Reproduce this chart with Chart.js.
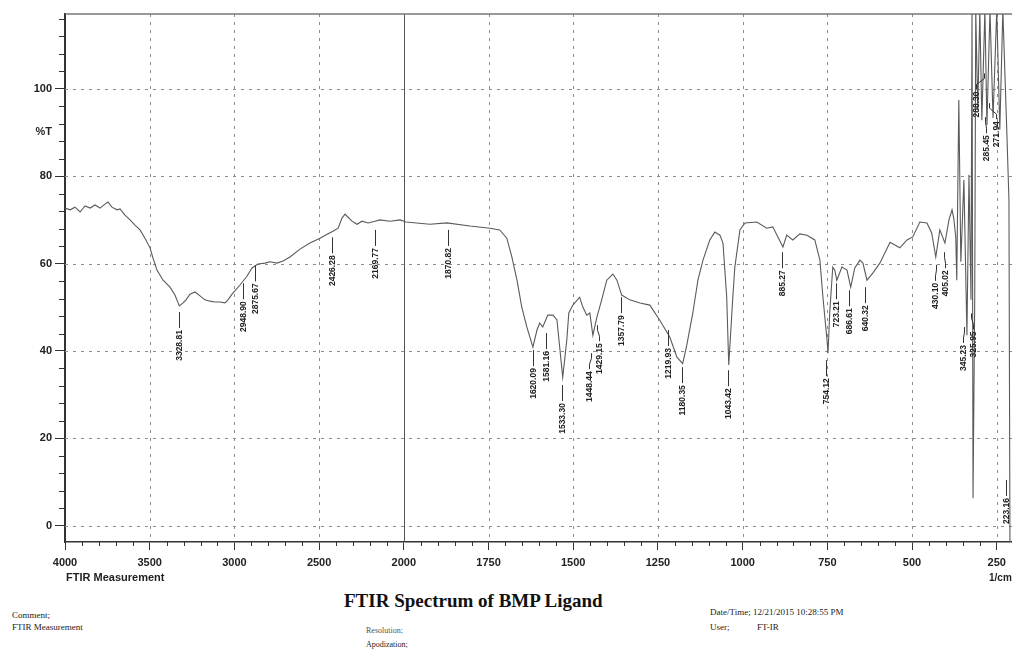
<!DOCTYPE html>
<html>
<head>
<meta charset="utf-8">
<script src="https://cdn.jsdelivr.net/npm/chart.js@4.4.1/dist/chart.umd.min.js"></script>
<style>
  body { margin: 0; background: #fff; width: 1012px; height: 653px; position: relative; overflow: hidden; }
  #wrap { position: absolute; left: 0; top: 0; width: 1012px; height: 590px; }
  .t { position: absolute; white-space: nowrap; color: #222; line-height: 1; }
  .sans { font-family: "Liberation Sans", Arial, sans-serif; font-weight: bold; font-size: 11px; }
  .serif { font-family: "Liberation Serif", "Times New Roman", serif; font-size: 9px; }
  .title { font-family: "Liberation Serif", "Times New Roman", serif; font-weight: bold; font-size: 19px; color: #111; }
</style>
</head>
<body>
<div id="wrap"><canvas id="ftir" width="1012" height="590"></canvas></div>

<div class="t sans" style="left:66px;top:572px;">FTIR Measurement</div>
<div class="t sans" style="left:989px;top:573px;font-size:10px;">1/cm</div>
<div class="t serif" style="left:12px;top:611px;">Comment;</div>
<div class="t serif" style="left:12px;top:623px;">FTIR Measurement</div>
<div class="t title" style="left:344px;top:591px;">FTIR Spectrum of BMP Ligand</div>
<div class="t serif" style="left:366px;top:627px;font-size:8px;color:#555;">Resolution;</div>
<div class="t serif" style="left:366px;top:641px;font-size:8px;">Apodization;</div>
<div class="t serif" style="left:710px;top:608px;">Date/Time; 12/21/2015 10:28:55 PM</div>
<div class="t serif" style="left:710px;top:623px;">User;</div>
<div class="t serif" style="left:757px;top:623px;">FT-IR</div>

<script>
// spectrum (wavenumber in 1/cm, %T)
const wavenumbers = [
  4000, 3970, 3941, 3911, 3882, 3852, 3823, 3793, 3764, 3746, 3723, 3693, 3675, 3646, 3616, 3587,
  3557, 3528, 3498, 3481, 3457, 3421, 3380, 3351, 3325, 3303, 3286, 3262, 3233, 3203, 3174, 3144,
  3115, 3085, 3056, 3038, 3014, 2967, 2926, 2896, 2861, 2819, 2790, 2749, 2713, 2672, 2613, 2554,
  2495, 2447, 2418, 2388, 2365, 2347, 2329, 2306, 2276, 2247, 2211, 2170, 2141, 2082, 2022, 2000,
  1994, 1923, 1873, 1805, 1746, 1717, 1696, 1681, 1666, 1652, 1637, 1619, 1607, 1599, 1590, 1575,
  1560, 1548, 1540, 1531, 1519, 1513, 1501, 1481, 1472, 1460, 1451, 1442, 1430, 1416, 1401, 1383,
  1371, 1357, 1333, 1303, 1274, 1245, 1215, 1194, 1177, 1166, 1147, 1132, 1117, 1097, 1082, 1067,
  1058, 1047, 1041, 1029, 1023, 1008, 993, 958, 929, 911, 896, 881, 870, 852, 831, 810,
  787, 772, 763, 751, 748, 743, 734, 728, 722, 707, 692, 681, 669, 654, 645, 633,
  616, 595, 565, 536, 515, 498, 477, 456, 442, 430, 418, 403, 391, 382, 377, 371,
  368, 362, 356, 347, 338, 332, 326, 323, 320, 315, 312, 306, 300, 294, 285, 279,
  270, 261, 250, 241, 232, 220, 214, 211
];
const transmittance = [
  72.7, 72.3, 72.9, 71.8, 73.2, 72.7, 73.4, 72.7, 73.6, 74.1, 72.9, 72.3, 72.5, 71.1, 70.0, 68.8,
  67.7, 65.8, 63.6, 61.3, 58.5, 56.2, 54.6, 52.8, 50.3, 51.0, 51.7, 53.0, 53.5, 52.6, 51.7, 51.4,
  51.2, 51.2, 51.0, 51.7, 53.0, 55.1, 57.1, 59.0, 59.9, 60.1, 60.4, 60.1, 60.6, 61.5, 63.3, 64.7,
  65.8, 66.8, 67.4, 68.1, 70.4, 71.3, 70.6, 69.7, 69.0, 69.7, 69.3, 69.7, 70.0, 69.7, 70.0, 69.7,
  69.5, 69.0, 69.3, 68.6, 68.1, 67.7, 65.8, 61.5, 56.2, 50.1, 45.5, 40.9, 44.8, 46.4, 45.5, 48.2,
  48.2, 47.1, 40.9, 34.0, 42.5, 48.7, 50.5, 52.3, 50.1, 48.2, 48.7, 43.6, 47.8, 51.7, 56.2, 57.6,
  56.2, 52.8, 51.7, 51.0, 50.5, 47.1, 43.2, 38.6, 37.1, 40.9, 48.7, 56.2, 60.8, 65.4, 67.2, 66.5,
  64.7, 52.3, 36.8, 52.3, 59.2, 67.7, 69.3, 69.5, 68.1, 68.4, 66.1, 63.8, 66.5, 65.4, 66.8, 66.5,
  65.4, 60.8, 52.3, 42.5, 39.5, 48.7, 59.2, 58.5, 56.2, 59.2, 58.5, 54.6, 59.0, 60.8, 60.1, 56.2,
  57.8, 60.1, 64.9, 63.6, 65.4, 66.1, 69.5, 69.3, 67.0, 61.5, 67.7, 64.7, 70.0, 72.3, 70.4, 66.1,
  56.2, 97.4, 60.4, 79.1, 43.6, 80.3, 51.7, 118, 6.3, 51.7, 118, 95.1, 118, 92.8, 118, 91.7,
  118, 93.3, 118, 90.6, 118, 89.4, 74.5, -4
];

// printed peak picks: wavenumber and the %T where the leader line starts
const peakWn = [
  3328.81, 2948.90, 2875.67, 2426.28, 2169.77, 1870.82, 1620.09, 1581.16, 1533.30, 1448.44,
  1429.15, 1357.79, 1219.93, 1180.35, 1043.42, 885.27, 754.12, 723.21, 686.61, 640.32,
  430.10, 405.02, 345.23, 325.95, 288.30, 285.45, 271.94, 223.16
];
const peakT = [
  48.9, 55.5, 59.6, 66.0, 67.7, 67.7, 40.2, 44.1, 32.2, 39.5,
  45.9, 52.3, 44.8, 36.3, 35.6, 62.6, 37.9, 55.5, 53.9, 54.6,
  59.7, 62.6, 45.5, 48.6, 103.5, 93.5, 96.7, 10.5
];

const xTickLabels = ['4000', '3500', '3000', '2500', '2000', '1750', '1500', '1250', '1000', '750', '500', '250'];
const yTickValues = [0, 20, 40, 60, 80, 90, 100];
const yGridValues = [0, 20, 40, 60, 80, 100];

// the printout changes scale at 2000 1/cm: 500 per division above, 250 below
function toAxis(wn) {
  return wn >= 2000 ? (4000 - wn) / 500 : 4 + (2000 - wn) / 250;
}

const points = wavenumbers.map((wn, i) => ({ x: toAxis(wn), y: transmittance[i] }));

function line(ctx, x1, y1, x2, y2) {
  ctx.beginPath();
  ctx.moveTo(x1, y1);
  ctx.lineTo(x2, y2);
  ctx.stroke();
}

const gridPlugin = {
  id: 'ftirGrid',
  beforeDatasetsDraw(chart) {
    const { ctx, chartArea: a, scales: { x, y } } = chart;
    ctx.save();
    ctx.lineWidth = 1;
    ctx.strokeStyle = '#8c8c8c';
    ctx.setLineDash([3, 5]);
    yGridValues.forEach(v => {
      const py = Math.round(y.getPixelForValue(v)) + 0.5;
      line(ctx, a.left, py, a.right, py);
    });
    xTickLabels.forEach((lab, k) => {
      if (k === 0 || k === 4) return;
      const px = Math.round(x.getPixelForValue(k)) + 0.5;
      line(ctx, px, a.top, px, a.bottom);
    });
    ctx.setLineDash([]);
    ctx.strokeStyle = '#555';
    const p2000 = Math.round(x.getPixelForValue(toAxis(2000))) + 0.5;
    line(ctx, p2000, a.top, p2000, a.bottom);
    // top frame
    ctx.strokeStyle = '#777';
    ctx.lineWidth = 1.5;
    line(ctx, a.left, a.top, a.right, a.top);
    // minor ticks
    ctx.strokeStyle = '#333';
    ctx.lineWidth = 1;
    for (let v = 4; v < 117; v += 4) {
      if (v % 20 === 0) continue;
      const py = Math.round(y.getPixelForValue(v)) + 0.5;
      line(ctx, a.left - 6, py, a.left, py);
    }
    for (let k = 0.2; k < x.max; k += 0.2) {
      if (Math.abs(k - Math.round(k)) < 0.01) continue;
      const px = Math.round(x.getPixelForValue(k)) + 0.5;
      line(ctx, px, a.bottom, px, a.bottom + 4);
    }
    ctx.restore();
  }
};

// spread labels that would overlap around the centre of their group, like the printout does
function labelXs(px) {
  const out = px.slice();
  const gap = 10;
  let i = 0;
  while (i < px.length) {
    let j = i;
    while (j + 1 < px.length && px[j + 1] - px[j] < gap) j++;
    if (j > i) {
      let mean = 0;
      for (let k = i; k <= j; k++) mean += px[k];
      mean /= (j - i + 1);
      for (let k = i; k <= j; k++) out[k] = mean + (k - i - (j - i) / 2) * gap;
    }
    i = j + 1;
  }
  return out;
}

const peakLabels = {
  id: 'peakLabels',
  afterDatasetsDraw(chart) {
    const { ctx, scales: { x, y } } = chart;
    ctx.save();
    ctx.strokeStyle = '#333';
    ctx.fillStyle = '#222';
    ctx.lineWidth = 1;
    ctx.font = 'bold 8.5px "Liberation Sans", Arial, sans-serif';
    const px = peakWn.map(wn => x.getPixelForValue(toAxis(wn)));
    const tx = labelXs(px);
    peakWn.forEach((wn, i) => {
      const x0 = Math.round(px[i]) + 0.5;
      const x1 = Math.round(tx[i]) + 0.5;
      const py = y.getPixelForValue(peakT[i]);
      ctx.beginPath();
      ctx.moveTo(x0, py);
      if (x0 !== x1) {
        ctx.lineTo(x0, py + 5);
        ctx.lineTo(x1, py + 11);
      }
      ctx.lineTo(x1, py + 16);
      ctx.stroke();
      const txt = wn.toFixed(2);
      const w = ctx.measureText(txt).width;
      ctx.save();
      ctx.translate(x1, py + 18 + w);
      ctx.rotate(-Math.PI / 2);
      ctx.textAlign = 'left';
      ctx.textBaseline = 'middle';
      ctx.fillText(txt, 0, 0);
      ctx.restore();
    });
    ctx.restore();
  }
};

new Chart(document.getElementById('ftir'), {
  type: 'line',
  data: {
    datasets: [{
      data: points,
      borderColor: '#5a5a5a',
      borderWidth: 1.1,
      pointRadius: 0,
      fill: false,
      tension: 0
    }]
  },
  options: {
    responsive: false,
    animation: false,
    events: [],
    layout: { padding: { top: 14, right: 0, left: 0, bottom: 0 } },
    plugins: { legend: { display: false }, tooltip: { enabled: false } },
    scales: {
      x: {
        type: 'linear',
        min: 0,
        max: 11.18,
        afterFit(s) { s.height = 48; },
        afterBuildTicks(s) { s.ticks = xTickLabels.map((l, k) => ({ value: k })); },
        grid: { drawOnChartArea: false, drawTicks: true, tickLength: 8, tickColor: '#333' },
        border: { color: '#333', width: 1.5 },
        ticks: {
          autoSkip: false,
          maxRotation: 0,
          padding: 6,
          color: '#222',
          font: { family: '"Liberation Sans", Arial, sans-serif', size: 11, weight: 'bold' },
          callback: v => xTickLabels[Math.round(v)]
        }
      },
      y: {
        type: 'linear',
        min: -3.7,
        max: 117.1,
        afterFit(s) { s.width = 65; },
        afterBuildTicks(s) { s.ticks = yTickValues.map(v => ({ value: v })); },
        grid: {
          drawOnChartArea: false,
          drawTicks: true,
          tickLength: 10,
          tickColor: c => (c.tick && c.tick.value === 90 ? 'rgba(0,0,0,0)' : '#333')
        },
        border: { color: '#333', width: 2 },
        ticks: {
          padding: 3,
          color: '#222',
          font: { family: '"Liberation Sans", Arial, sans-serif', size: 11, weight: 'bold' },
          callback: v => (v === 90 ? '%T' : String(v))
        }
      }
    }
  },
  plugins: [gridPlugin, peakLabels]
});
</script>
</body>
</html>
